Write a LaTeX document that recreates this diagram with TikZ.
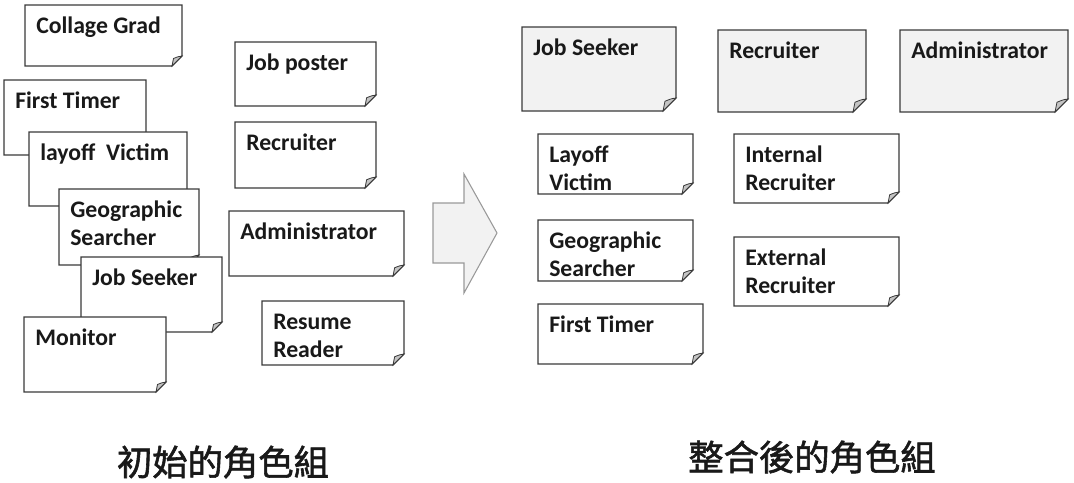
\documentclass[tikz,border=0pt]{standalone}
\usepackage{fontspec}
\setmainfont{Carlito}
\newfontfamily\cjk[FakeBold=1.6]{Noto Sans CJK TC}
\definecolor{cardgray}{HTML}{F2F2F2}
\definecolor{edge}{HTML}{3A3A3A}
\definecolor{foldc}{HTML}{C4C4C4}
\tikzset{
  cardline/.style={draw=edge, line width=0.9pt, line join=miter},
  foldst/.style={draw=edge, line width=0.6pt, fill=foldc},
  cardtext/.style={inner sep=0pt, font=\bfseries\fontsize{17.8pt}{21.4pt}\selectfont, text=black!90},
  cjktext/.style={inner sep=0pt, font=\cjk\fontsize{26.5pt}{30pt}\selectfont, text=black!90},
  arrowst/.style={draw=gray!80, line width=0.8pt, fill=cardgray},
}
% name, x1, y1, x2, y2, fold, fill, text
\newcommand\mkcard[8]{%
  \filldraw[cardline, fill=#7] (#2,#3) -- (#4,#3) -- (#4,{#5-#6}) -- ({#4-#6},#5) -- (#2,#5) -- cycle;
  \filldraw[foldst] (#4,{#5-#6}) .. controls ({#4-0.35*#6},{#5-0.95*#6}) .. ({#4-0.85*#6},{#5-0.75*#6}) -- ({#4-#6},#5) -- cycle;
  \node[cardtext, anchor=base west] (#1) at ({#2+11},{#3+28}) {\begin{tabular}[t]{@{}l@{}}#8\end{tabular}};
}
\begin{document}
\begin{tikzpicture}[x=0.75pt, y=-0.75pt]
\useasboundingbox (0,0) rectangle (1074,482);
% left stack
\mkcard{cg}{25}{5}{182}{66}{10}{white}{Collage Grad}
\mkcard{fta}{4}{80}{146}{155}{10}{white}{First Timer}
\mkcard{lva}{29}{132}{187}{206}{10}{white}{layoff\hspace{0.45em}Victim}
\mkcard{gsa}{59}{189}{199}{265}{10}{white}{Geographic\\Searcher}
\mkcard{jsa}{81}{257}{222}{332}{10}{white}{Job Seeker}
\mkcard{mon}{24}{317}{166}{392}{10}{white}{Monitor}
% middle column
\mkcard{jp}{235}{42}{376}{106}{11}{white}{Job poster}
\mkcard{rca}{235}{122}{376}{188}{11}{white}{Recruiter}
\mkcard{ada}{229}{211}{404}{276}{11}{white}{Administrator}
\mkcard{rr}{262}{301}{404}{365}{11}{white}{Resume\\Reader}
% arrow
\filldraw[arrowst] (433,203) -- (464,203) -- (464,174) -- (497,233) -- (464,293) -- (464,263) -- (433,263) -- cycle;
% right groups
\mkcard{jsb}{522}{27}{676}{111}{13}{cardgray}{Job Seeker}
\mkcard{rcb}{718}{30}{866}{112}{13}{cardgray}{Recruiter}
\mkcard{adb}{900}{30}{1068}{112}{13}{cardgray}{Administrator}
\mkcard{lvb}{538}{134}{693}{194}{11}{white}{Layoff\\Victim}
\mkcard{gsb}{538}{220}{693}{281}{11}{white}{Geographic\\Searcher}
\mkcard{ftb}{538}{304}{703}{364}{11}{white}{First Timer}
\mkcard{ir}{734}{134}{899}{203}{11}{white}{Internal\\Recruiter}
\mkcard{er}{734}{237}{899}{306}{11}{white}{External\\Recruiter}
% captions
\node[cjktext] (capa) at (223,462) {初始的角色組};
\node[cjktext] (capb) at (812,457) {整合後的角色組};
\end{tikzpicture}
\end{document}
